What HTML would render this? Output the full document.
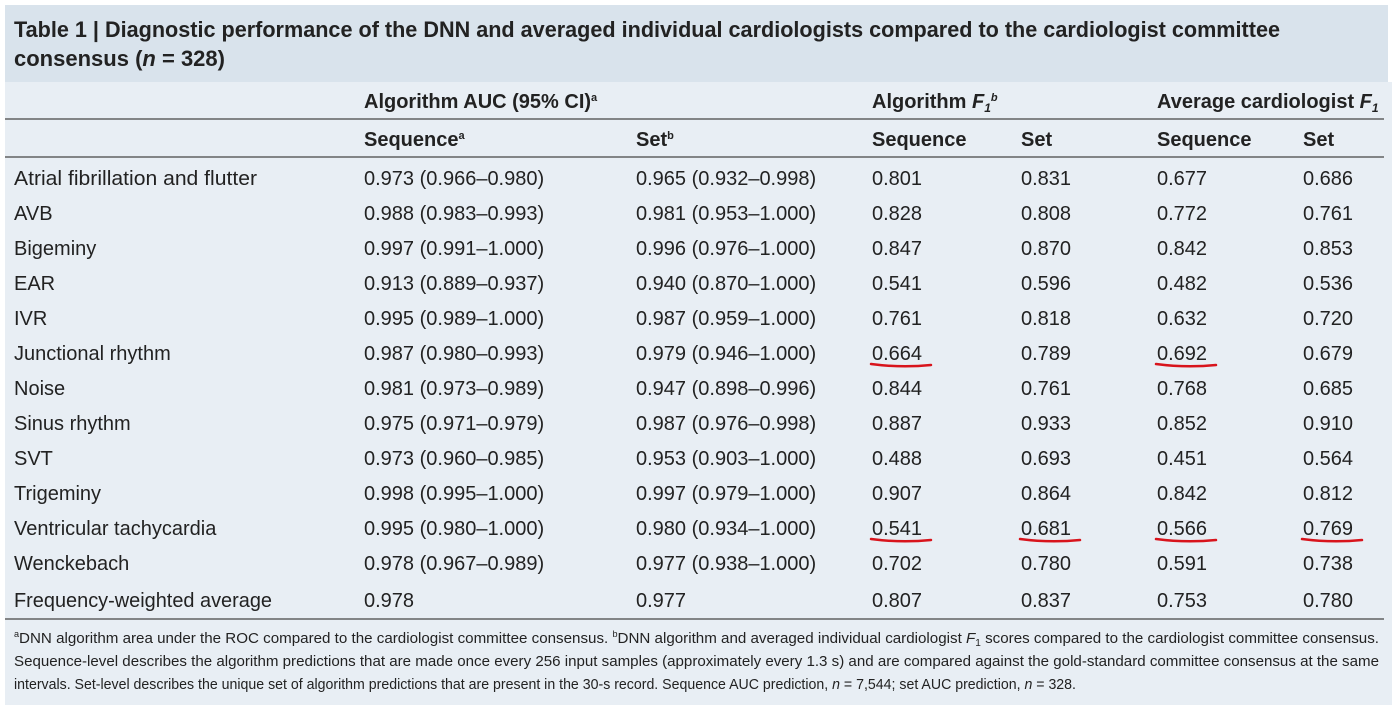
<!DOCTYPE html>
<html><head><meta charset="utf-8">
<style>
html,body{margin:0;padding:0;background:#fff;width:1400px;height:710px;overflow:hidden}
svg{display:block;font-family:"Liberation Sans",sans-serif}
</style></head>
<body>
<svg id="s" width="1400" height="710" xmlns="http://www.w3.org/2000/svg">
<rect x="5" y="82" width="1387" height="623" fill="#e8eef4"/>
<rect x="5" y="5" width="1383" height="77" fill="#d9e3ec"/>
<text x="14" y="37" font-size="22" font-weight="bold" fill="#222" textLength="1266" lengthAdjust="spacingAndGlyphs">Table 1 | Diagnostic performance of the DNN and averaged individual cardiologists compared to the cardiologist committee</text>
<text x="14" y="66" font-size="22" font-weight="bold" fill="#222" textLength="211" lengthAdjust="spacingAndGlyphs">consensus (<tspan font-style="italic">n</tspan> = 328)</text>
<g id="g"></g>
</svg>
<script>
const labels=["Atrial fibrillation and flutter","AVB","Bigeminy","EAR","IVR","Junctional rhythm","Noise","Sinus rhythm","SVT","Trigeminy","Ventricular tachycardia","Wenckebach"];
const aucSeq=["0.973 (0.966–0.980)","0.988 (0.983–0.993)","0.997 (0.991–1.000)","0.913 (0.889–0.937)","0.995 (0.989–1.000)","0.987 (0.980–0.993)","0.981 (0.973–0.989)","0.975 (0.971–0.979)","0.973 (0.960–0.985)","0.998 (0.995–1.000)","0.995 (0.980–1.000)","0.978 (0.967–0.989)"];
const aucSet=["0.965 (0.932–0.998)","0.981 (0.953–1.000)","0.996 (0.976–1.000)","0.940 (0.870–1.000)","0.987 (0.959–1.000)","0.979 (0.946–1.000)","0.947 (0.898–0.996)","0.987 (0.976–0.998)","0.953 (0.903–1.000)","0.997 (0.979–1.000)","0.980 (0.934–1.000)","0.977 (0.938–1.000)"];
const f1Seq=["0.801","0.828","0.847","0.541","0.761","0.664","0.844","0.887","0.488","0.907","0.541","0.702"];
const f1Set=["0.831","0.808","0.870","0.596","0.818","0.789","0.761","0.933","0.693","0.864","0.681","0.780"];
const cardSeq=["0.677","0.772","0.842","0.482","0.632","0.692","0.768","0.852","0.451","0.842","0.566","0.591"];
const cardSet=["0.686","0.761","0.853","0.536","0.720","0.679","0.685","0.910","0.564","0.812","0.769","0.738"];
const avgRow=["Frequency-weighted average","0.978","0.977","0.807","0.837","0.753","0.780"];
const underlined=[[5,3],[5,5],[10,3],[10,4],[10,5],[10,6]];

const NS="http://www.w3.org/2000/svg";
const g=document.getElementById('g');
const colX=[14,364,636,872,1021,1157,1303];
function txt(x,y,s,name,opts){
  const t=document.createElementNS(NS,'text');
  t.setAttribute('x',x);t.setAttribute('y',y);
  t.setAttribute('font-size',(opts&&opts.fs)||20);
  t.setAttribute('fill','#222');
  if(opts&&opts.bold)t.setAttribute('font-weight','bold');
  if(opts&&opts.tl){t.setAttribute('textLength',opts.tl);t.setAttribute('lengthAdjust','spacingAndGlyphs');}
  if(opts&&opts.html)t.innerHTML=s;else t.textContent=s;
  
  
  g.appendChild(t);return t;
}
function line(y,name){
  const l=document.createElementNS(NS,'line');
  l.setAttribute('x1',5);l.setAttribute('x2',1384);l.setAttribute('y1',y);l.setAttribute('y2',y);
  l.setAttribute('stroke','#444');l.setAttribute('stroke-width','1.2');
  
  
  g.appendChild(l);
}
txt(364,108,'Algorithm AUC (95% CI)<tspan font-size="11" dy="-7">a</tspan>','header-algorithm-auc',{bold:1,html:1});
txt(872,108,'Algorithm <tspan font-style="italic">F</tspan><tspan font-size="12" dy="4" font-style="italic">1</tspan><tspan font-size="11" dy="-11" font-style="italic">b</tspan>','header-algorithm-f1',{bold:1,html:1});
txt(1157,108,'Average cardiologist <tspan font-style="italic">F</tspan><tspan font-size="12" dy="4" font-style="italic">1</tspan>','header-average-cardiologist-f1',{bold:1,html:1});
line(119,'header-rule-1');
const sub=['Sequence<tspan font-size="11" dy="-7">a</tspan>','Set<tspan font-size="11" dy="-7">b</tspan>','Sequence','Set','Sequence','Set'];
sub.forEach((s,i)=>txt(colX[i+1],146,s,'subheader-'+(i+1),{bold:1,html:1}));
line(157,'header-rule-2');
const cols=[labels,aucSeq,aucSet,f1Seq,f1Set,cardSeq,cardSet];
for(let r=0;r<labels.length;r++){
  const y=185+r*35;
  cols.forEach((c,i)=>txt(colX[i],y,c[r],i==0?'row-label':'cell-value',(i==0&&r==0)?{tl:243}:{}));
}
avgRow.forEach((s,i)=>txt(colX[i],607,s,i==0?'row-label-average':'cell-average',i==0?{tl:258}:{}));
line(619,'footer-rule');
underlined.forEach(([r,c])=>{
  const y=366+(r-5)*35-1;
  const x=colX[c]-1;
  const p=document.createElementNS(NS,'path');
  p.setAttribute('d',`M${x} ${y-1} Q${x+30} ${y+3} ${x+60} ${y}`);
  p.setAttribute('stroke','#d8141c');p.setAttribute('stroke-width','2.5');p.setAttribute('fill','none');p.setAttribute('stroke-linecap','round');
  
  
  g.appendChild(p);
});
txt(14,643,'<tspan font-size="9" dy="-6">a</tspan><tspan dy="6">DNN algorithm area under the ROC compared to the cardiologist committee consensus. </tspan><tspan font-size="9" dy="-6">b</tspan><tspan dy="6">DNN algorithm and averaged individual cardiologist </tspan><tspan font-style="italic">F</tspan><tspan font-size="10" dy="3">1</tspan><tspan dy="-3"> scores compared to the cardiologist committee consensus.</tspan>','footnote-line1',{fs:15,html:1,tl:1365});
txt(14,666,'Sequence-level describes the algorithm predictions that are made once every 256 input samples (approximately every 1.3 s) and are compared against the gold-standard committee consensus at the same','footnote-line2',{fs:15,tl:1365});
txt(14,689,'intervals. Set-level describes the unique set of algorithm predictions that are present in the 30-s record. Sequence AUC prediction, <tspan font-style="italic">n</tspan> = 7,544; set AUC prediction, <tspan font-style="italic">n</tspan> = 328.','footnote-line3',{fs:15,html:1,tl:1062});
</script>
</body></html>
